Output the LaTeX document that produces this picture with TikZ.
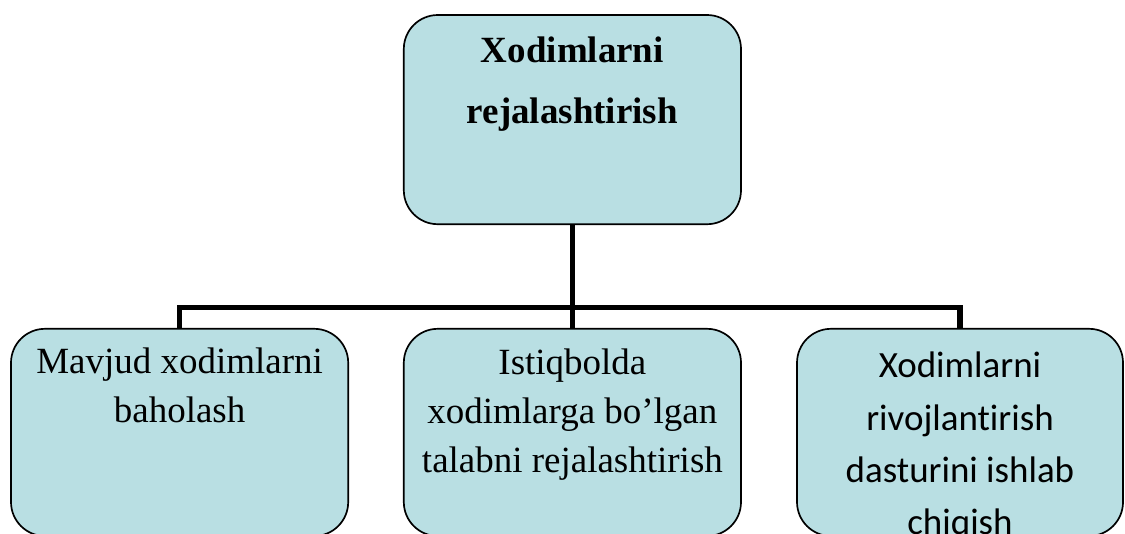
\documentclass[tikz,border=0pt]{standalone}
\usepackage{fontspec}
\setmainfont{Liberation Serif}
\newfontfamily\calibri[Ligatures=NoCommon]{Carlito}
\usetikzlibrary{positioning}
\definecolor{boxFill}{RGB}{185,223,227}

\begin{document}
\begin{tikzpicture}[
        planBox/.style={rectangle, draw, rounded corners=0.85cm, fill=boxFill, line width=1.2pt, minimum width=8.43cm, minimum height=5.18cm},
        planText/.style={align=center, inner sep=0pt, font=\fontsize{26.3}{34.9}\selectfont},
        line/.style={line width=4pt}
    ]
        \useasboundingbox (0,0) rectangle (28.125,-13.325);

        \node[planBox, minimum height=5.23cm] (plan) at (14.31,-2.99) {};
        \node[planBox] (current) at (4.49,-10.81) {};
        \node[planBox] (demand) at (14.31,-10.81) {};
        \node[planBox, minimum width=8.15cm] (develop) at (24.0,-10.81) {};

        \node[planText, font=\bfseries\fontsize{26.3}{43.4}\selectfont, below=0.55cm of plan.north] (planText) {Xodimlarni\\rejalashtirish};
        \node[planText, below=0.5cm of current.north] (currentText) {Mavjud xodimlarni\\baholash};
        \node[planText, below=0.52cm of demand.north] (demandText) {Istiqbolda\\xodimlarga bo’lgan\\talabni rejalashtirish};
        \node[planText, font=\calibri\fontsize{26.3}{37.2}\selectfont, below=0.6cm of develop.north] (developText) {Xodimlarni\\rivojlantirish\\dasturini ishlab\\chiqish};

        \coordinate (bus) at (14.31,-7.69);
        \draw[line] (plan) -- (demand);
        \draw[line] (current) |- (bus) -| (develop);
    \end{tikzpicture}
\end{document}
